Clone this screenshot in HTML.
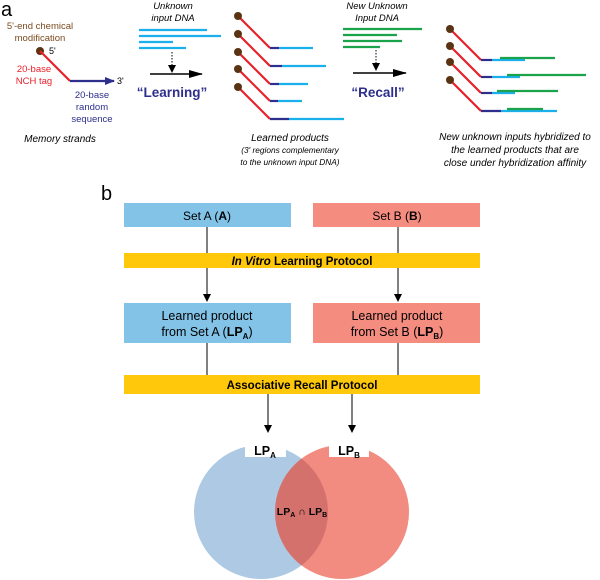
<!DOCTYPE html>
<html><head><style>
body{margin:0;background:#fff}
svg{display:block;font-family:"Liberation Sans",Arial,sans-serif}
</style></head><body>
<svg width="600" height="580" viewBox="0 0 600 580" xmlns="http://www.w3.org/2000/svg">
<defs>
<marker id="ah" markerWidth="8" markerHeight="8" refX="7" refY="4" orient="auto" markerUnits="userSpaceOnUse"><path d="M0,0 L8,4 L0,8 z" fill="#000"/></marker>
<marker id="ahb" markerWidth="10" markerHeight="8" refX="9" refY="4" orient="auto" markerUnits="userSpaceOnUse"><path d="M0,0 L10,4 L0,8 z" fill="#2e2e8c"/></marker>
<marker id="ahk" markerWidth="14" markerHeight="8" refX="13" refY="4" orient="auto" markerUnits="userSpaceOnUse"><path d="M0,0 L14,4 L0,8 z" fill="#000"/></marker>
</defs>
<!-- panel a -->
<text x="1" y="16" font-size="20">a</text>
<text x="40" y="29" font-size="9.5" fill="#7a4a1e" text-anchor="middle">5'-end chemical</text>
<text x="40" y="41" font-size="9.5" fill="#7a4a1e" text-anchor="middle">modification</text>
<circle cx="40" cy="51" r="4" fill="#5a3312"/>
<text x="49" y="54" font-size="9">5'</text>
<line x1="40" y1="51" x2="70" y2="81" stroke="#e8202a" stroke-width="2.2"/>
<line x1="70" y1="81" x2="114" y2="81" stroke="#2e2e8c" stroke-width="2.2" marker-end="url(#ahb)"/>
<text x="117" y="84" font-size="9">3'</text>
<text x="34" y="72" font-size="9.5" fill="#e8202a" text-anchor="middle">20-base</text>
<text x="34" y="84" font-size="9.5" fill="#e8202a" text-anchor="middle">NCH tag</text>
<text x="92" y="98" font-size="9.5" fill="#2e2e8c" text-anchor="middle">20-base</text>
<text x="92" y="110" font-size="9.5" fill="#2e2e8c" text-anchor="middle">random</text>
<text x="92" y="122" font-size="9.5" fill="#2e2e8c" text-anchor="middle">sequence</text>
<text x="60" y="142" font-size="10" font-style="italic" text-anchor="middle">Memory strands</text>

<text x="173" y="9" font-size="9.5" font-style="italic" text-anchor="middle">Unknown</text>
<text x="173" y="21" font-size="9.5" font-style="italic" text-anchor="middle">input DNA</text>
<g stroke="#1ab0ec" stroke-width="2.2">
<line x1="139" y1="30" x2="207" y2="30"/><line x1="139" y1="36" x2="221" y2="36"/>
<line x1="139" y1="42" x2="173" y2="42"/><line x1="139" y1="48" x2="186" y2="48"/></g>
<line x1="172" y1="52" x2="172" y2="72" stroke="#000" stroke-dasharray="1.5,1.5" marker-end="url(#ah)"/>
<line x1="150" y1="74" x2="202" y2="74" stroke="#000" stroke-width="1.5" marker-end="url(#ahk)"/>
<text x="172" y="97" font-size="13.5" font-weight="bold" fill="#2e2e8c" text-anchor="middle">“Learning”</text>

<g>
<g stroke-width="2.2">
<line x1="238" y1="16" x2="270" y2="48" stroke="#e8202a"/><line x1="270" y1="48" x2="279" y2="48" stroke="#2e2e8c"/><line x1="279" y1="48" x2="313" y2="48" stroke="#1ab0ec"/>
<line x1="238" y1="34" x2="270" y2="66" stroke="#e8202a"/><line x1="270" y1="66" x2="282" y2="66" stroke="#2e2e8c"/><line x1="282" y1="66" x2="326" y2="66" stroke="#1ab0ec"/>
<line x1="238" y1="52" x2="270" y2="84" stroke="#e8202a"/><line x1="270" y1="84" x2="279" y2="84" stroke="#2e2e8c"/><line x1="279" y1="84" x2="308" y2="84" stroke="#1ab0ec"/>
<line x1="238" y1="69" x2="270" y2="101" stroke="#e8202a"/><line x1="270" y1="101" x2="278" y2="101" stroke="#2e2e8c"/><line x1="278" y1="101" x2="302" y2="101" stroke="#1ab0ec"/>
<line x1="238" y1="87" x2="270" y2="119" stroke="#e8202a"/><line x1="270" y1="119" x2="289" y2="119" stroke="#2e2e8c"/><line x1="289" y1="119" x2="344" y2="119" stroke="#1ab0ec"/>
</g>
<g fill="#5a3312"><circle cx="238" cy="16" r="4"/><circle cx="238" cy="34" r="4"/><circle cx="238" cy="52" r="4"/><circle cx="238" cy="69" r="4"/><circle cx="238" cy="87" r="4"/></g>
</g>
<text x="290" y="141" font-size="10" font-style="italic" text-anchor="middle">Learned products</text>
<text x="290" y="153" font-size="8.3" font-style="italic" text-anchor="middle">(3' regions complementary</text>
<text x="290" y="165" font-size="8.3" font-style="italic" text-anchor="middle">to the unknown input DNA)</text>

<text x="377" y="9" font-size="9.5" font-style="italic" text-anchor="middle">New Unknown</text>
<text x="377" y="21" font-size="9.5" font-style="italic" text-anchor="middle">Input DNA</text>
<g stroke="#1aa34a" stroke-width="2.2">
<line x1="343" y1="29" x2="422" y2="29"/><line x1="343" y1="35" x2="397" y2="35"/>
<line x1="343" y1="41" x2="402" y2="41"/><line x1="343" y1="47" x2="380" y2="47"/></g>
<line x1="376" y1="50" x2="376" y2="70" stroke="#000" stroke-dasharray="1.5,1.5" marker-end="url(#ah)"/>
<line x1="353" y1="73" x2="406" y2="73" stroke="#000" stroke-width="1.5" marker-end="url(#ahk)"/>
<text x="378" y="97" font-size="13.5" font-weight="bold" fill="#2e2e8c" text-anchor="middle">“Recall”</text>

<g stroke-width="2.2">
<line x1="450" y1="29" x2="481" y2="60" stroke="#e8202a"/><line x1="481" y1="60" x2="492" y2="60" stroke="#2e2e8c"/><line x1="492" y1="60" x2="525" y2="60" stroke="#1ab0ec"/><line x1="500" y1="58" x2="555" y2="58" stroke="#1aa34a"/>
<line x1="450" y1="46" x2="481" y2="77" stroke="#e8202a"/><line x1="481" y1="77" x2="492" y2="77" stroke="#2e2e8c"/><line x1="492" y1="77" x2="520" y2="77" stroke="#1ab0ec"/><line x1="507" y1="75" x2="586" y2="75" stroke="#1aa34a"/>
<line x1="450" y1="62" x2="481" y2="93" stroke="#e8202a"/><line x1="481" y1="93" x2="492" y2="93" stroke="#2e2e8c"/><line x1="492" y1="93" x2="515" y2="93" stroke="#1ab0ec"/><line x1="497" y1="91" x2="558" y2="91" stroke="#1aa34a"/>
<line x1="450" y1="80" x2="481" y2="111" stroke="#e8202a"/><line x1="481" y1="111" x2="501" y2="111" stroke="#2e2e8c"/><line x1="501" y1="111" x2="557" y2="111" stroke="#1ab0ec"/><line x1="507" y1="109" x2="543" y2="109" stroke="#1aa34a"/>
</g>
<g fill="#5a3312"><circle cx="450" cy="29" r="4"/><circle cx="450" cy="46" r="4"/><circle cx="450" cy="62" r="4"/><circle cx="450" cy="80" r="4"/></g>
<text x="515" y="140" font-size="10" font-style="italic" text-anchor="middle">New unknown inputs hybridized to</text>
<text x="515" y="153" font-size="10" font-style="italic" text-anchor="middle">the learned products that are</text>
<text x="515" y="166" font-size="10" font-style="italic" text-anchor="middle">close under hybridization affinity</text>

<!-- panel b -->
<text x="101" y="200" font-size="20">b</text>
<rect x="124" y="203" width="167" height="24" fill="#82c3e7"/>
<rect x="313" y="203" width="167" height="24" fill="#f58c80"/>
<text x="207" y="220" font-size="12" text-anchor="middle">Set A (<tspan font-weight="bold">A</tspan>)</text>
<text x="397" y="220" font-size="12" text-anchor="middle">Set B (<tspan font-weight="bold">B</tspan>)</text>
<line x1="207" y1="227" x2="207" y2="301" stroke="#000" marker-end="url(#ah)"/>
<line x1="398" y1="227" x2="398" y2="301" stroke="#000" marker-end="url(#ah)"/>
<rect x="124" y="253" width="356" height="15" fill="#ffc80a"/>
<text x="302" y="265" font-size="11.5" font-weight="bold" text-anchor="middle"><tspan font-style="italic">In Vitro</tspan> Learning Protocol</text>
<rect x="124" y="303" width="167" height="40" fill="#82c3e7"/>
<rect x="313" y="303" width="167" height="40" fill="#f58c80"/>
<text x="207" y="320" font-size="12.5" text-anchor="middle">Learned product</text>
<text x="207" y="336" font-size="12.5" text-anchor="middle">from Set A (<tspan font-weight="bold">LP<tspan font-size="8" dy="3">A</tspan></tspan><tspan dy="-3">)</tspan></text>
<text x="397" y="320" font-size="12.5" text-anchor="middle">Learned product</text>
<text x="397" y="336" font-size="12.5" text-anchor="middle">from Set B (<tspan font-weight="bold">LP<tspan font-size="8" dy="3">B</tspan></tspan><tspan dy="-3">)</tspan></text>
<line x1="207" y1="343" x2="207" y2="375" stroke="#000"/>
<line x1="398" y1="343" x2="398" y2="375" stroke="#000"/>
<rect x="124" y="375" width="356" height="19" fill="#ffc80a"/>
<text x="302" y="389" font-size="11.5" font-weight="bold" text-anchor="middle">Associative Recall Protocol</text>
<line x1="268" y1="394" x2="268" y2="432" stroke="#000" marker-end="url(#ah)"/>
<line x1="352" y1="394" x2="352" y2="432" stroke="#000" marker-end="url(#ah)"/>
<circle cx="261" cy="512" r="67" fill="#adc9e4"/>
<circle cx="342" cy="512" r="67" fill="#f28b80"/>
<clipPath id="ca"><circle cx="261" cy="512" r="67"/></clipPath>
<circle cx="342" cy="512" r="67" fill="#d5716c" clip-path="url(#ca)"/>
<rect x="245" y="442" width="41" height="15" fill="#fff"/>
<rect x="329" y="442" width="40" height="15" fill="#fff"/>
<text x="265" y="455" font-size="12.5" font-weight="bold" text-anchor="middle">LP<tspan font-size="8" dy="3">A</tspan></text>
<text x="349" y="455" font-size="12.5" font-weight="bold" text-anchor="middle">LP<tspan font-size="8" dy="3">B</tspan></text>
<text x="302" y="515" font-size="10.5" font-weight="bold" text-anchor="middle">LP<tspan font-size="7" dy="2">A</tspan><tspan dy="-2"> ∩ LP</tspan><tspan font-size="7" dy="2">B</tspan></text>
</svg>
</body></html>
